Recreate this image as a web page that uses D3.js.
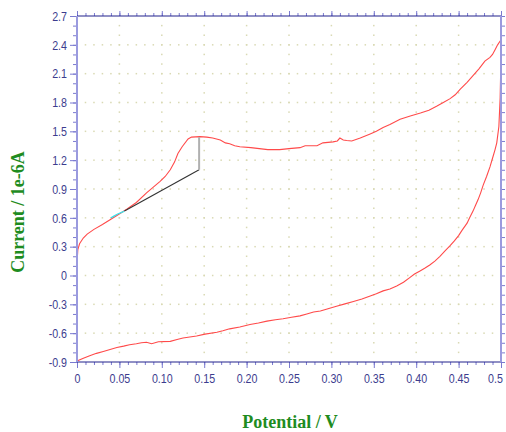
<!DOCTYPE html>
<html><head><meta charset="utf-8">
<script src="https://cdn.jsdelivr.net/npm/d3@7"></script>
<style>html,body{margin:0;padding:0;background:#fff;}svg{display:block;}</style>
</head><body>
<svg id="c" width="506" height="432"></svg>
<script>
const xTicks = [0,0.05,0.10,0.15,0.20,0.25,0.30,0.35,0.40,0.45,0.5];
const xTickLabels = ["0","0.05","0.10","0.15","0.20","0.25","0.30","0.35","0.40","0.45","0.5"];
const yTicks = [-0.9,-0.6,-0.3,0,0.3,0.6,0.9,1.2,1.5,1.8,2.1,2.4,2.7];
const yTickLabels = ["-0.9","-0.6","-0.3","0","0.3","0.6","0.9","1.2","1.5","1.8","2.1","2.4","2.7"];

// forward (anodic) scan
const fwdV = [0,0.0005,0.001,0.003,0.0074,0.012,0.02,0.03,0.039,0.048,0.0586,0.07,0.082,0.09,0.098,0.104,0.110,0.115,0.119,0.124,0.131,0.135,0.145,0.153,0.160,0.169,0.175,0.180,0.186,0.192,0.205,0.215,0.225,0.239,0.250,0.263,0.269,0.283,0.290,0.302,0.307,0.310,0.314,0.318,0.324,0.334,0.345,0.353,0.361,0.369,0.381,0.393,0.405,0.415,0.424,0.432,0.440,0.446,0.452,0.46,0.467,0.474,0.481,0.487,0.490,0.493,0.496,0.499,0.5];
const fwdI = [0.10,0.2,0.27,0.33,0.39,0.43,0.48,0.53,0.58,0.63,0.69,0.76,0.86,0.92,0.98,1.03,1.10,1.18,1.27,1.34,1.42,1.44,1.445,1.44,1.43,1.41,1.38,1.37,1.35,1.34,1.33,1.32,1.31,1.31,1.32,1.33,1.35,1.35,1.38,1.39,1.40,1.43,1.41,1.405,1.40,1.43,1.47,1.50,1.54,1.57,1.625,1.66,1.69,1.72,1.76,1.80,1.84,1.88,1.94,2.01,2.08,2.15,2.23,2.27,2.30,2.35,2.40,2.44,2.45];
// reverse (cathodic) scan
const revV = [0.5,0.4998,0.499,0.4975,0.495,0.493,0.490,0.487,0.483,0.479,0.476,0.473,0.470,0.467,0.463,0.460,0.454,0.450,0.445,0.440,0.434,0.428,0.422,0.416,0.410,0.404,0.398,0.392,0.385,0.377,0.369,0.361,0.353,0.345,0.336,0.326,0.316,0.306,0.296,0.287,0.279,0.271,0.263,0.253,0.243,0.234,0.224,0.214,0.204,0.192,0.180,0.172,0.165,0.151,0.141,0.133,0.125,0.118,0.110,0.096,0.088,0.082,0.076,0.070,0.062,0.055,0.047,0.039,0.031,0.023,0.015,0.0075,0];
const revI = [2.45,2.2,1.85,1.55,1.38,1.31,1.22,1.13,1.03,0.94,0.86,0.79,0.73,0.67,0.60,0.545,0.47,0.415,0.36,0.31,0.255,0.20,0.15,0.11,0.075,0.045,0.015,-0.025,-0.07,-0.11,-0.14,-0.16,-0.19,-0.215,-0.245,-0.27,-0.295,-0.32,-0.345,-0.37,-0.38,-0.40,-0.42,-0.435,-0.45,-0.46,-0.475,-0.495,-0.51,-0.535,-0.555,-0.575,-0.59,-0.61,-0.63,-0.64,-0.65,-0.665,-0.685,-0.69,-0.71,-0.695,-0.70,-0.71,-0.72,-0.735,-0.75,-0.77,-0.79,-0.81,-0.835,-0.86,-0.89];
// peak baseline construction
const cyanV = [0.040,0.044,0.048,0.052,0.056];
const cyanI = [0.60,0.62,0.64,0.655,0.67];
const baseV = [0.056,0.144];
const baseI = [0.67,1.10];
const peakV = [0.144,0.144];
const peakI = [1.10,1.44];

const svg = d3.select("#c");
const x = d3.scaleLinear().domain([0,0.5]).range([77,501]);
const y = d3.scaleLinear().domain([-0.9,2.7]).range([362,16]);

// grid dots
const g = svg.append("g");
const minorX = d3.range(0,0.5001,0.01);
const minorY = d3.range(-0.9,2.7001,0.1);
yTicks.slice(1,-1).forEach(t=>{
  minorX.slice(1,-1).forEach(m=>{
    g.append("rect").attr("x",x(m)-0.75).attr("y",y(t)-0.75).attr("width",1.5).attr("height",1.5).attr("fill","#d9d9b4");
  });
});
xTicks.slice(1,-1).forEach(t=>{
  minorY.slice(1,-1).forEach(m=>{
    g.append("rect").attr("x",x(t)-0.75).attr("y",y(m)-0.75).attr("width",1.5).attr("height",1.5).attr("fill","#d9d9b4");
  });
});

const lineL = d3.line().x(d=>x(d[0])).y(d=>y(d[1]));
const zip = (a,b)=>a.map((v,i)=>[v,b[i]]);

svg.append("path").attr("d",lineL(zip(fwdV,fwdI))).attr("fill","none").attr("stroke","#ff4a4a").attr("stroke-width",1.1);
svg.append("path").attr("d",lineL(zip(revV,revI))).attr("fill","none").attr("stroke","#ff4a4a").attr("stroke-width",1.1);
svg.append("path").attr("d",lineL(zip(cyanV,cyanI))).attr("fill","none").attr("stroke","#3ee0e8").attr("stroke-width",1.3);
svg.append("path").attr("d",lineL(zip(baseV,baseI))).attr("fill","none").attr("stroke","#333").attr("stroke-width",1.1);
svg.append("path").attr("d",lineL(zip(peakV,peakI))).attr("fill","none").attr("stroke","#b0b0b0").attr("stroke-width",2);

const fontTick = "'Liberation Sans Narrow','Arial Narrow','Liberation Sans',sans-serif";
const tickCol = "#7a7ad0";
function styleAxis(a){
  a.select(".domain").remove();
  a.selectAll("line").attr("stroke",tickCol).attr("stroke-width",1);
  a.selectAll("text").attr("fill","#3c3c8e").attr("font-family",fontTick).attr("font-size",13);
}
function narrow(a){
  a.selectAll("text").each(function(){
    const w = this.getComputedTextLength();
    d3.select(this).attr("textLength", w*0.82).attr("lengthAdjust","spacingAndGlyphs");
  });
}
// bottom
const bx = svg.append("g").attr("transform","translate(0,362)")
  .call(d3.axisBottom(x).tickValues(minorX).tickSize(3).tickFormat(""));
styleAxis(bx);
const bx2 = svg.append("g").attr("transform","translate(0,362)")
  .call(d3.axisBottom(x).tickValues(xTicks).tickSize(6).tickPadding(6).tickFormat((d,i)=>xTickLabels[i]));
styleAxis(bx2);
narrow(bx2);
bx2.selectAll("text").filter((d,i)=>i===xTicks.length-1).attr("dx",-6);
// top
const tx = svg.append("g").attr("transform","translate(0,16)")
  .call(d3.axisTop(x).tickValues(minorX).tickSize(3).tickFormat(""));
styleAxis(tx);
const tx2 = svg.append("g").attr("transform","translate(0,16)")
  .call(d3.axisTop(x).tickValues(xTicks).tickSize(5).tickFormat(""));
styleAxis(tx2);
// left
const ly = svg.append("g").attr("transform","translate(77,0)")
  .call(d3.axisLeft(y).tickValues(minorY).tickSize(4).tickFormat(""));
styleAxis(ly);
const ly2 = svg.append("g").attr("transform","translate(77,0)")
  .call(d3.axisLeft(y).tickValues(yTicks).tickSize(7).tickPadding(3).tickFormat((d,i)=>yTickLabels[i]));
styleAxis(ly2);
narrow(ly2);
// right
const ry = svg.append("g").attr("transform","translate(501,0)")
  .call(d3.axisRight(y).tickValues(minorY).tickSize(4).tickFormat(""));
styleAxis(ry);

// frame
svg.append("line").attr("x1",77).attr("x2",501).attr("y1",16).attr("y2",16).attr("stroke","#23238c").attr("stroke-width",1.2);
svg.append("line").attr("x1",77).attr("x2",501).attr("y1",362).attr("y2",362).attr("stroke","#23238c").attr("stroke-width",1.2);
svg.append("line").attr("x1",77).attr("x2",77).attr("y1",16).attr("y2",362).attr("stroke","#9a9ade").attr("stroke-width",2);
svg.append("line").attr("x1",501).attr("x2",501).attr("y1",16).attr("y2",362).attr("stroke","#9a9ade").attr("stroke-width",2);

// axis titles
svg.append("text").attr("x",290).attr("y",428).attr("text-anchor","middle")
  .attr("font-family","'Liberation Serif','Times New Roman',serif").attr("font-weight","bold")
  .attr("font-size",18).attr("fill","#1f8c1f").text("Potential / V");
svg.append("text").attr("transform","translate(24,212) rotate(-90)").attr("text-anchor","middle")
  .attr("font-family","'Liberation Serif','Times New Roman',serif").attr("font-weight","bold")
  .attr("font-size",18).attr("fill","#1f8c1f").text("Current / 1e-6A");
</script>
</body></html>
